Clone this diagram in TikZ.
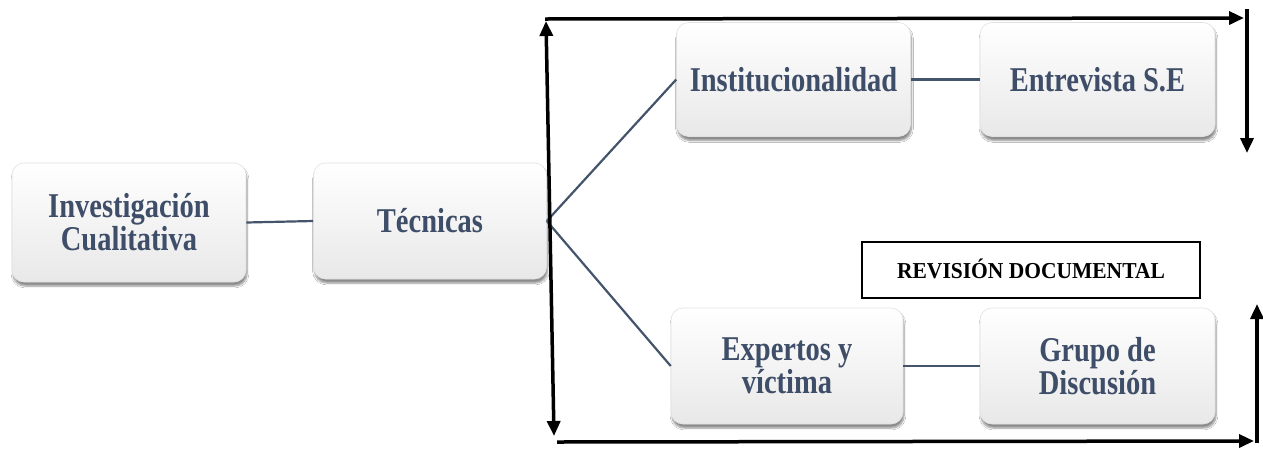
\documentclass[tikz,border=0pt]{standalone}
\usepackage{fontspec}
\usepackage{graphicx}
\setmainfont{Liberation Serif}
\usetikzlibrary{arrows.meta,shadows.blur}
\definecolor{boxtext}{RGB}{62,77,104}
\definecolor{conn}{RGB}{68,84,106}
\definecolor{boxedge}{RGB}{225,225,225}
\newcommand\tallline[1]{\scalebox{1}[1.22]{#1}}
\begin{document}
\begin{tikzpicture}[x=1pt,y=-1pt,
  stepbox/.style={rectangle, rounded corners=12pt, draw=boxedge, line width=0.6pt,
    top color=white, bottom color=gray!18, minimum width=234pt, minimum height=116pt,
    align=center, text=boxtext, font=\bfseries\fontsize{28.5}{30}\selectfont,
    blur shadow={shadow xshift=1pt, shadow yshift=-4pt, shadow blur steps=6, shadow opacity=45}},
  conline/.style={draw=conn, line width=2.2pt},
  bigarrow/.style={draw=black, line width=3.5pt, -{Triangle[length=15pt,width=13pt]}},
  bigdarrow/.style={draw=black, line width=3.5pt, {Triangle[length=15pt,width=13pt]}-{Triangle[length=15pt,width=13pt]}},
  revbox/.style={rectangle, draw=black, line width=1.2pt, minimum width=338pt, minimum height=56pt,
    font=\bfseries\fontsize{21.5}{22}\selectfont, text=black}
]
\useasboundingbox (0,0) rectangle (1263,448);
\fill[white] (0,0) rectangle (1263,448);

\node[stepbox, minimum width=234pt, minimum height=119pt] (inv) at (129,222.5) {\tallline{Investigación}\\\tallline{Cualitativa}};
\node[stepbox, minimum width=233pt, minimum height=116pt] (tec) at (430,221) {\tallline{Técnicas}};
\node[stepbox, minimum width=234pt, minimum height=114pt] (ins) at (793.5,79.5) {\tallline{Institucionalidad}};
\node[stepbox, minimum width=235pt, minimum height=114pt] (ent) at (1097.5,79.5) {\tallline{Entrevista S.E}};
\node[stepbox, minimum width=232pt, minimum height=116pt] (exp) at (787,366) {\tallline{Expertos y}\\\tallline{víctima}};
\node[stepbox, minimum width=235pt, minimum height=116pt] (gru) at (1097.5,366) {\tallline{Grupo de}\\\tallline{Discusión}};
\node[revbox] (rev) at (1031,270) {\raisebox{3pt}{\scalebox{1}[1.06]{REVISIÓN DOCUMENTAL}}};

\draw[conline] (inv.east) -- (tec.west);
\draw[conline] (tec.east) -- (ins.west);
\draw[conline] (tec.east) -- (exp.west);
\draw[conline] (ins.east) -- (ent.west);
\draw[conline] (exp.east) -- (gru.west);

\coordinate (lt) at (546,21);
\coordinate (lb) at (554,436);
\coordinate (ts) at (545,19);
\coordinate (te) at (1244,18);
\coordinate (rts) at (1247,9);
\coordinate (rte) at (1247,153);
\coordinate (bs) at (557,442);
\coordinate (be) at (1254,441);
\coordinate (rbs) at (1257,443);
\coordinate (rbe) at (1257,304);

\draw[bigdarrow] (lt) -- (lb);
\draw[bigarrow] (ts) -- (te);
\draw[bigarrow] (rts) -- (rte);
\draw[bigarrow] (bs) -- (be);
\draw[bigarrow] (rbs) -- (rbe);
\end{tikzpicture}
\end{document}
